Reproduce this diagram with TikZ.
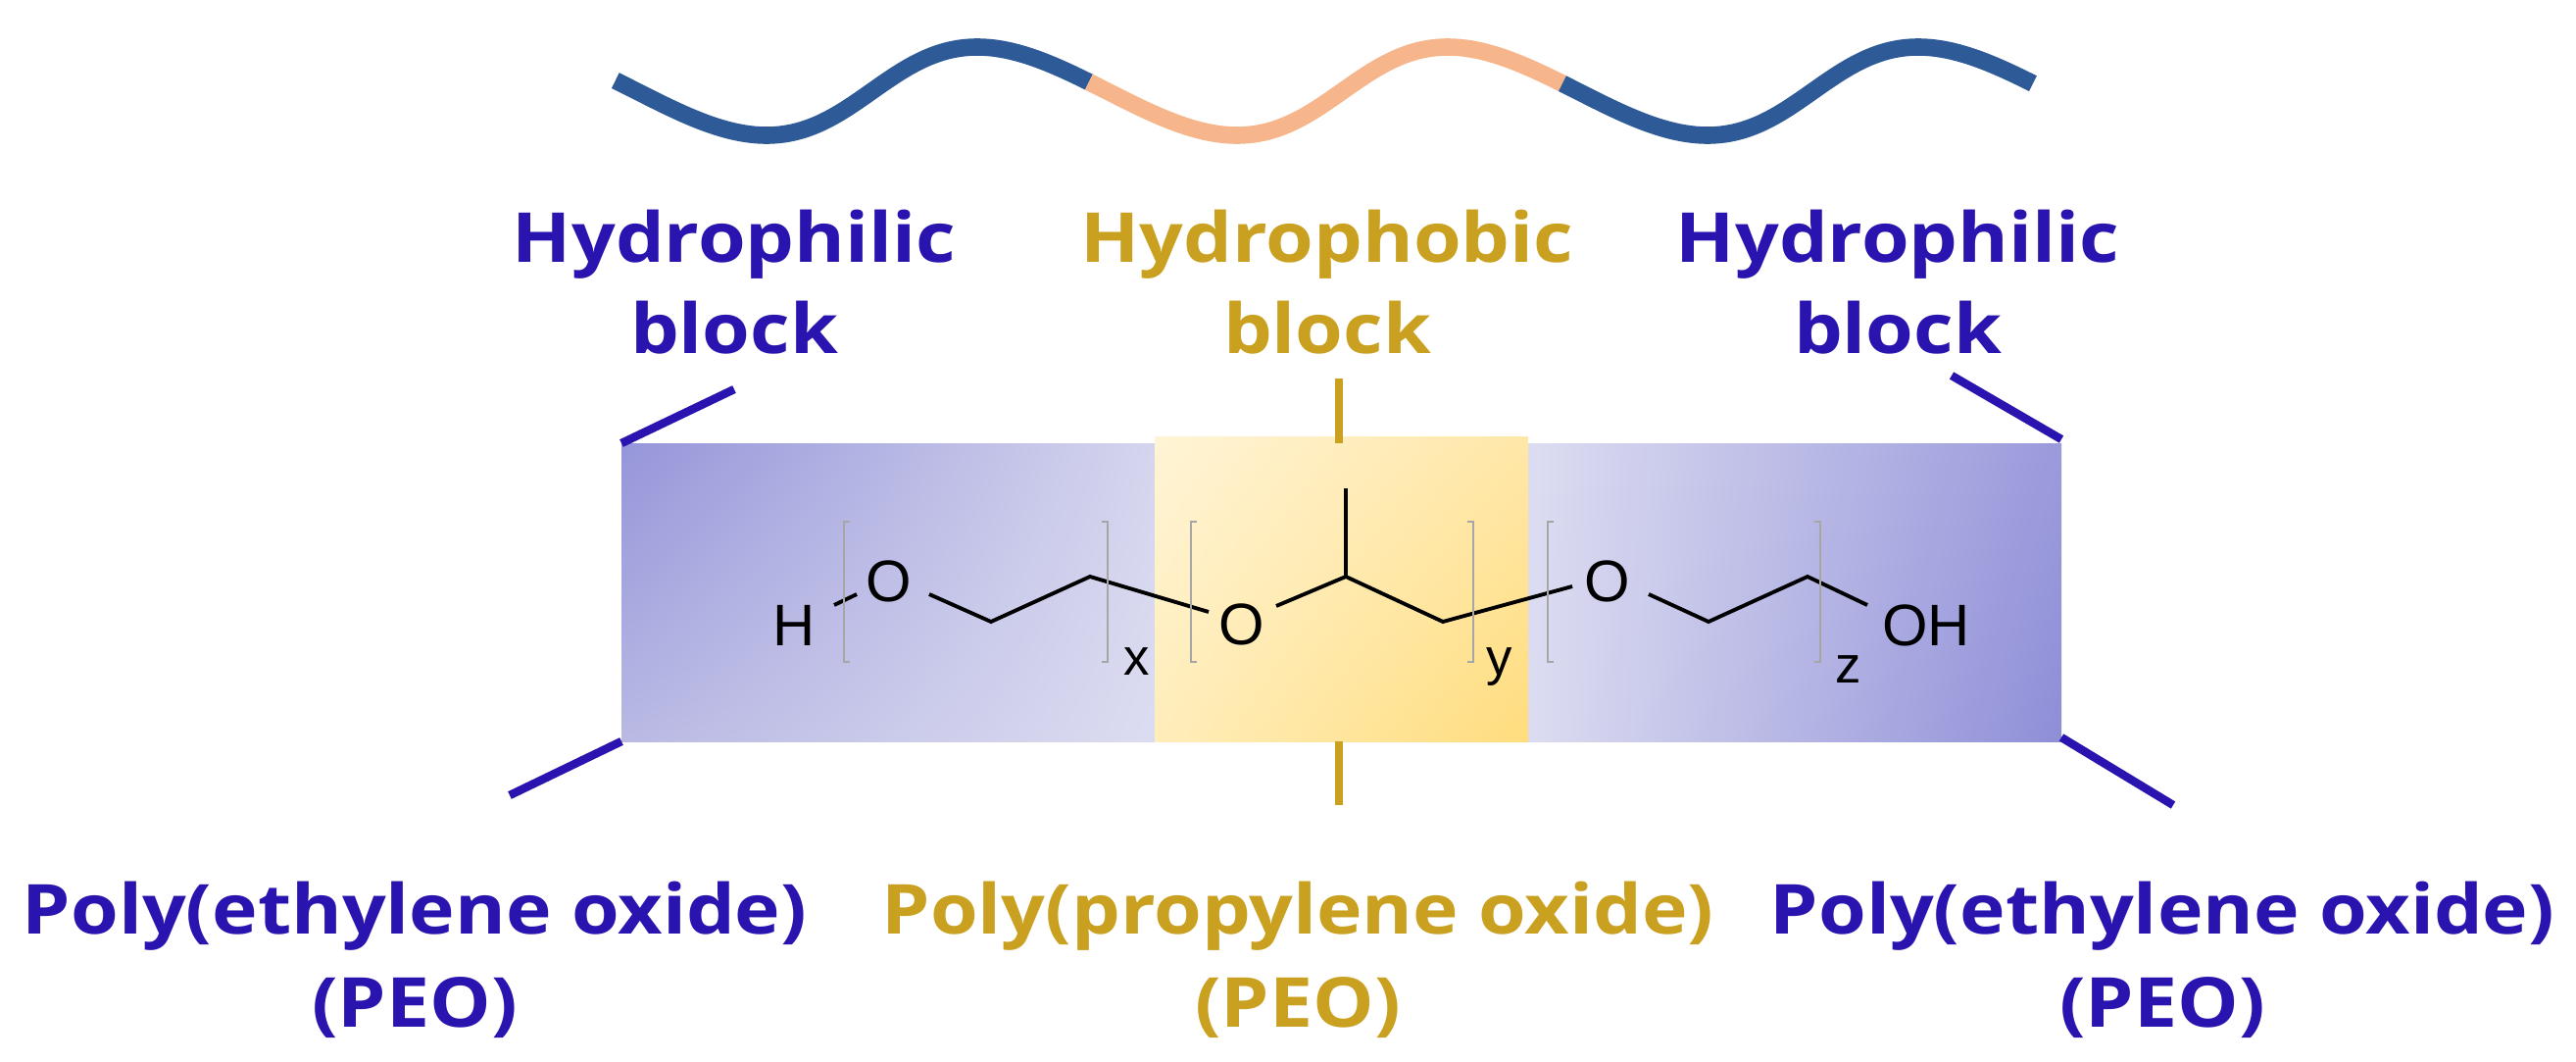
\documentclass[tikz,border=0pt]{standalone}
\usepackage{fontspec}
\usetikzlibrary{shadings}
\setmainfont[FakeStretch=1.12]{Open Sans}
\newfontfamily\chemfont{Liberation Sans}
\definecolor{philic}{HTML}{2A14B0}
\definecolor{phobic}{HTML}{C9A020}
\definecolor{wblue}{HTML}{2E5A98}
\definecolor{worange}{HTML}{F6B58A}
\definecolor{bA}{HTML}{9595DA}
\definecolor{bB}{HTML}{B9B9E4}
\definecolor{bC}{HTML}{D5D5EE}
\definecolor{bD}{HTML}{DCDCF1}
\definecolor{bE}{HTML}{9A9ADC}
\definecolor{bF}{HTML}{8E8ED8}
\definecolor{yA}{HTML}{FFF4D6}
\definecolor{yB}{HTML}{FFE7A8}
\definecolor{yC}{HTML}{FFEDBA}
\definecolor{yD}{HTML}{FFDD7E}
\begin{document}
\begin{tikzpicture}[x=0.01cm,y=-0.01cm,
  lbl/.style={font=\bfseries\fontsize{20}{20}\selectfont,anchor=base,inner sep=0},
  atom/.style={font=\chemfont\fontsize{17}{17}\selectfont,inner sep=0},
  sub/.style={font=\chemfont\fontsize{15}{15}\selectfont,inner sep=0},
  bond/.style={line width=1.1pt,black},
  brk/.style={line width=0.6pt,gray!70},
  tick/.style={line width=2.4pt,line cap=butt},
  wave/.style={line width=5pt}]
\useasboundingbox (0,0) rectangle (2628,1082);
% wave (parametric, peaks slightly skewed)
\draw[wblue,wave] plot[variable=\t,domain=-104:258,samples=100,smooth] ({782+1.3333*\t-12.5*(1-cos(\t))},{93+45*cos(\t)});
\draw[worange,wave] plot[variable=\t,domain=258:620,samples=100,smooth] ({782+1.3333*\t-12.5*(1-cos(\t))},{93+45*cos(\t)});
\draw[wblue,wave] plot[variable=\t,domain=620:980,samples=100,smooth] ({782+1.3333*\t-12.5*(1-cos(\t))},{93+45*cos(\t)});
% labels
\node[lbl,text=philic] (t1a) at (749,268) {Hydrophilic};
\node[lbl,text=philic] (t1b) at (749,360) {block};
\node[lbl,text=phobic] (t2a) at (1354,268) {Hydrophobic};
\node[lbl,text=phobic] (t2b) at (1354,360) {block};
\node[lbl,text=philic] (t3a) at (1936,268) {Hydrophilic};
\node[lbl,text=philic] (t3b) at (1936,360) {block};
\node[lbl,text=philic] (b1a) at (423,952) {Poly(ethylene oxide)};
\node[lbl,text=philic] (b1b) at (423,1047) {(PEO)};
\node[lbl,text=phobic] (b2a) at (1324,952) {Poly(propylene oxide)};
\node[lbl,text=phobic] (b2b) at (1324,1047) {(PEO)};
\node[lbl,text=philic] (b3a) at (2206,952) {Poly(ethylene oxide)};
\node[lbl,text=philic] (b3b) at (2206,1047) {(PEO)};
% blocks
\shade[upper left=bA,lower left=bB,upper right=bC,lower right=bD] (634,452) rectangle (1178,756);
\shade[upper left=bD,lower left=bD,upper right=bE,lower right=bF] (1559,452) rectangle (2103,756);
\shade[upper left=yA,upper right=yB,lower left=yC,lower right=yD] (1178,445) rectangle (1559,756);
% ticks
\coordinate (a1) at (634,452); \coordinate (a2) at (749,397);
\coordinate (c1) at (634,756); \coordinate (c2) at (520,811);
\coordinate (d1) at (2103,448); \coordinate (d2) at (1991,383);
\coordinate (e1) at (2103,752); \coordinate (e2) at (2217,821);
\coordinate (f1) at (1366,386); \coordinate (f2) at (1366,452);
\coordinate (g1) at (1366,756); \coordinate (g2) at (1366,821);
\draw[tick,philic] (a1)--(a2); \draw[tick,philic] (c1)--(c2);
\draw[tick,philic] (d1)--(d2); \draw[tick,philic] (e1)--(e2);
\draw[tick,phobic] (f1)--(f2); \draw[tick,phobic] (g1)--(g2);
% chemistry
\node[atom] (H) at (810,638) {H};
\node[atom] (O1) at (907,593) {O};
\node[atom] (O2) at (1267,637) {O};
\node[atom] (O3) at (1640,593) {O};
\node[atom] (OH) at (1965,638) {OH};
\coordinate (p1) at (1011,634); \coordinate (p2) at (1112,588);
\coordinate (p3) at (1373,588); \coordinate (pm) at (1373,498);
\coordinate (p4) at (1472,634); \coordinate (p5) at (1743,634);
\coordinate (p6) at (1844,588);
\draw[bond] (851,617)--(874,606);
\draw[bond] (948,606)--(p1)--(p2)--(1233,624);
\draw[bond] (1302,618)--(p3)--(p4)--(1604,598);
\draw[bond] (p3)--(pm);
\draw[bond] (1682,606)--(p5)--(p6)--(1905,617);
\draw[brk] (867,532)--(861,532)--(861,675)--(867,675);
\draw[brk] (1124,532)--(1130,532)--(1130,675)--(1124,675);
\draw[brk] (1221,532)--(1215,532)--(1215,675)--(1221,675);
\draw[brk] (1497,532)--(1503,532)--(1503,675)--(1497,675);
\draw[brk] (1585,532)--(1579,532)--(1579,675)--(1585,675);
\draw[brk] (1851,532)--(1857,532)--(1857,675)--(1851,675);
\node[sub] (sx) at (1160,675) {x};
\node[sub] (sy) at (1530,680) {y};
\node[sub] (sz) at (1886,683) {z};
\end{tikzpicture}
\end{document}
